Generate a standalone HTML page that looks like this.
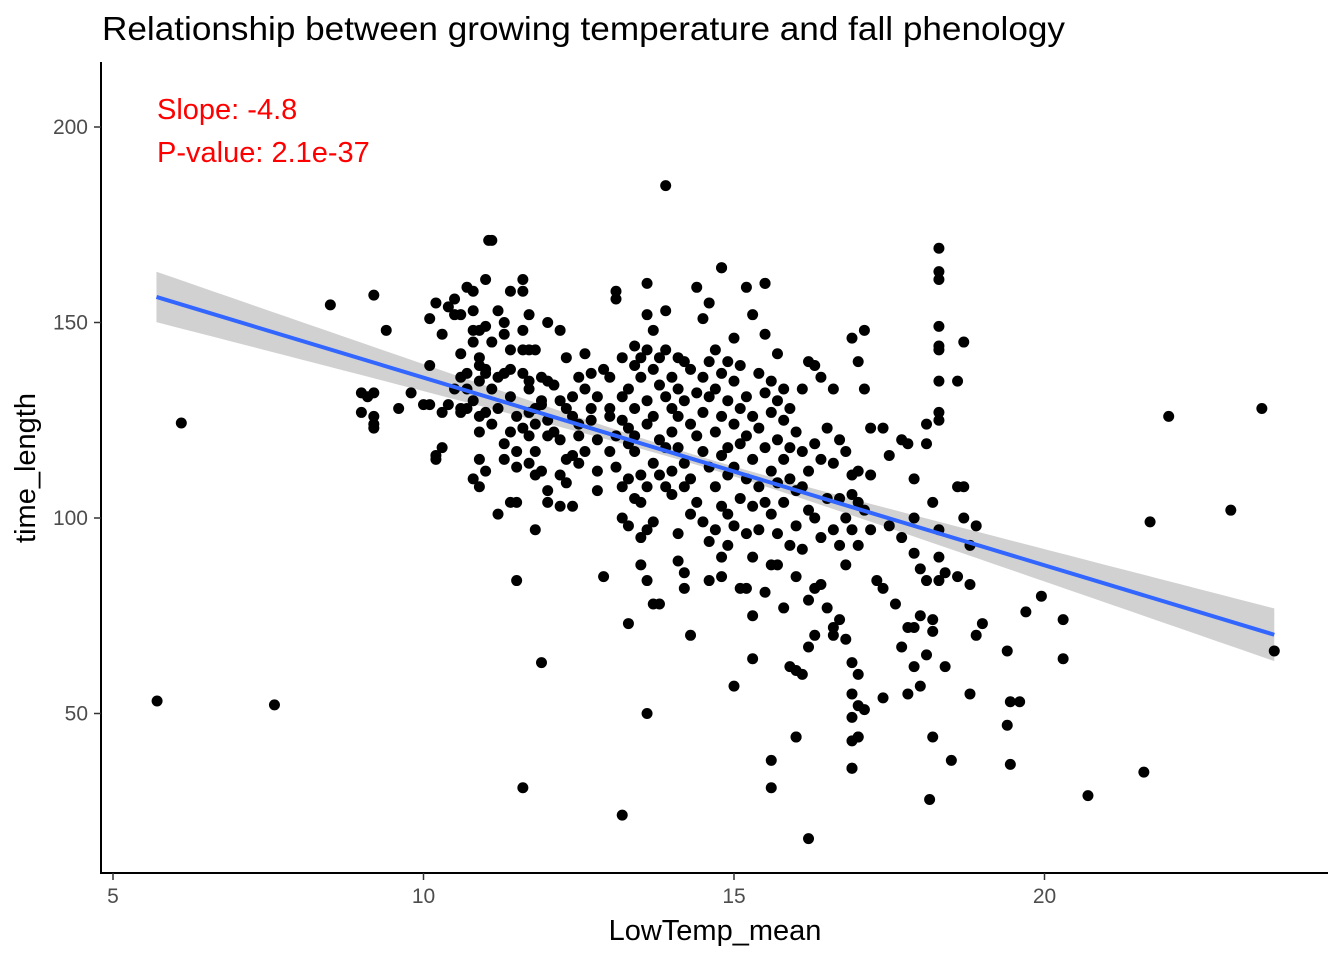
<!DOCTYPE html>
<html><head><meta charset="utf-8"><style>
html,body{margin:0;padding:0;background:#fff;}
svg{display:block;font-family:"Liberation Sans",Arial,sans-serif;}
</style></head><body>
<svg id="chart" width="1344" height="960" viewBox="0 0 1344 960" xmlns="http://www.w3.org/2000/svg">
<text x="102" y="40" font-size="33" textLength="963" lengthAdjust="spacingAndGlyphs" fill="#000">Relationship between growing temperature and fall phenology</text>
<g id="band"></g>
<g id="pts"></g>
<g id="fit"></g>
<line x1="101" y1="62" x2="101" y2="874" stroke="#000" stroke-width="2"/>
<line x1="100" y1="873" x2="1328" y2="873" stroke="#000" stroke-width="2"/>
<g id="xt"></g>
<g id="yt"></g>
<text x="715" y="940" font-size="29" text-anchor="middle">LowTemp_mean</text>
<text transform="translate(35,468) rotate(-90)" font-size="29" text-anchor="middle">time_length</text>
<text x="157" y="119" font-size="29" fill="#ff0000">Slope: -4.8</text>
<text x="157" y="162" font-size="29" fill="#ff0000">P-value: 2.1e-37</text>
</svg>
<script>
const xTicks=[5,10,15,20];
const yTicks=[50,100,150,200];
const fitIntercept=183.9;
const fitSlope=-4.8;
const fitRange=[5.7,23.7];
const bandSe0=1.2;
const bandK=0.72;
const bandMid=14.5;
const xs=[5.71,6.1,7.6,8.5,23.7,23.5,23.0,22.0,21.7,21.6,20.7,20.3,20.3,19.95,19.7,19.45,19.6,19.4,19.45,19.4,13.9,16.2,13.2,11.6,13.6,11.9,11.5,18.15,18.5,18.2,15.6,15.6,16.0,16.9,17.0,11.05,14.8,15.5,18.3,18.3,18.3,18.3,18.3,18.3,18.3,18.3,18.3,18.7,18.6,
9.0,9.1,9.2,9.0,9.2,9.2,9.2,9.4,9.2,9.6,9.8,10.1,10.2,10.2,10.3,10.1,10.2,10.1,10.4,10.5,10.5,10.6,10.6,10.7,10.8,10.8,10.7,10.8,10.9,10.9,10.6,10.9,
11.0,11.0,11.1,11.1,11.0,11.1,11.0,11.2,11.2,11.0,11.1,10.9,10.9,10.8,10.9,11.2,11.3,11.3,11.4,11.2,11.4,11.4,11.3,11.4,11.5,11.4,11.3,11.5,11.5,11.3,11.4,11.5,
11.6,11.6,11.7,11.6,11.6,11.7,11.6,11.7,11.7,11.6,11.7,11.8,11.7,11.8,11.8,11.9,11.9,11.8,12.0,12.0,12.0,12.0,11.9,12.0,12.0,11.8,11.9,11.7,11.8,
12.2,12.3,12.1,12.2,12.3,12.1,12.2,12.3,12.2,12.3,12.2,12.4,12.4,12.5,12.5,12.5,12.4,12.4,12.5,12.6,12.6,12.6,12.7,12.7,12.7,12.8,12.8,12.8,12.8,
12.9,13.0,13.0,13.0,13.1,13.0,12.9,13.1,13.1,13.2,13.2,13.2,13.1,13.2,13.2,13.3,13.3,13.3,13.3,13.3,13.4,13.4,13.4,13.4,13.5,13.5,13.5,13.5,13.3,13.4,13.5,13.5,13.6,13.6,13.6,13.6,13.6,13.6,13.6,13.6,13.4,
13.7,13.8,13.7,13.8,13.7,13.8,13.7,13.8,13.7,13.7,13.8,13.9,13.9,13.9,13.9,13.9,14.0,14.0,14.0,14.0,14.0,14.1,14.1,14.1,14.1,14.1,14.1,14.2,14.2,14.2,14.2,14.2,14.2,14.3,14.3,14.3,14.3,14.3,14.4,14.4,14.4,14.4,14.5,14.5,14.5,14.5,14.5,14.6,14.6,14.6,14.6,14.6,14.6,
14.7,14.7,14.7,14.7,14.7,14.8,14.8,14.8,14.8,14.8,14.8,14.8,14.9,14.9,14.9,14.9,14.9,14.9,15.0,15.0,15.0,15.0,15.0,15.1,15.0,15.1,15.1,15.1,15.1,15.2,15.2,15.2,15.2,15.2,15.2,15.3,15.3,15.3,15.3,15.3,15.3,15.3,15.4,15.4,15.4,15.4,15.5,15.5,15.5,15.5,15.5,15.5,
15.6,15.6,15.6,15.6,15.6,15.7,15.7,15.7,15.7,15.7,15.7,15.8,15.8,15.8,15.8,15.8,15.9,15.9,15.9,15.9,15.9,16.0,16.0,16.0,16.0,16.0,16.0,16.1,16.1,16.1,16.1,16.2,16.2,16.2,16.2,16.2,16.1,
16.3,16.3,16.3,16.3,16.3,16.4,16.4,16.4,16.4,16.5,16.5,16.5,16.6,16.6,16.6,16.6,16.6,16.7,16.7,16.7,16.7,16.8,16.8,16.8,16.8,16.9,16.9,16.9,16.9,16.9,16.9,16.9,16.9,17.0,17.0,17.0,17.0,17.0,17.0,17.0,16.9,
17.1,17.1,17.1,17.1,17.2,17.2,17.2,17.3,17.4,17.4,17.4,17.5,17.5,17.6,17.7,17.7,17.7,17.8,17.8,17.8,17.9,17.9,17.9,17.9,17.9,18.0,18.0,18.0,18.1,18.1,18.1,18.1,18.2,18.2,18.2,18.3,18.3,18.3,18.4,18.4,
18.6,18.7,18.6,18.7,18.8,18.8,18.8,18.9,18.9,19.0,
10.0,10.3,10.3,10.4,10.5,10.8,10.7,10.9,10.6,10.8,10.9,11.0,10.6,10.7];
const ys=[53.2,124.3,52.2,154.5,66,128,102,126,99,35,29,64,74,80,76,53,53,47,37,66,185,18,24,31,50,63,84,28,38,44,38,31,44,36,44,171,164,160,169,163,161,149,144,143,135,127,125,145,135,
132,131,132,127,126,124,123,148,157,128,132,129,116,115,118,151,155,139,129,156,133,128,136,128,153,145,159,158,141,139,152,148,
161,149,171,145,138,133,137,136,128,127,124,126,122,110,108,101,150,147,158,153,143,138,137,131,126,122,119,117,113,115,104,104,
161,158,152,148,143,143,137,135,127,123,121,117,114,111,128,130,136,143,150,135,125,121,112,107,104,97,129,133,124,
148,141,134,130,128,122,120,115,111,109,103,103,116,114,121,124,126,131,136,142,133,117,125,128,137,131,120,112,107,
138,136,128,126,121,117,85,158,156,141,131,125,113,108,100,98,110,119,123,133,139,144,128,117,111,104,95,88,73,121,136,141,160,152,143,130,124,108,97,84,105,
148,141,138,134,126,120,114,111,99,78,78,153,143,131,118,108,136,128,122,112,106,141,133,126,118,96,89,140,130,114,108,86,82,138,124,110,101,70,132,121,104,159,151,136,127,117,99,155,140,131,113,94,84,
143,133,122,108,97,164,137,126,116,103,90,85,140,130,118,111,101,93,146,135,124,113,98,82,57,139,128,119,105,159,131,121,110,96,82,152,126,115,103,90,75,64,137,123,108,97,160,147,132,118,104,81,
135,127,112,101,88,142,130,120,109,96,88,133,125,115,104,77,128,118,110,93,62,122,107,98,85,44,61,133,117,108,92,140,112,102,79,67,60,
139,119,100,82,70,136,115,95,83,123,105,77,133,114,97,72,70,120,105,93,74,117,100,88,69,146,111,97,63,55,49,43,36,140,112,104,93,60,52,44,106,
148,133,102,51,123,111,97,84,82,123,54,116,98,78,120,95,67,119,72,55,110,100,91,72,62,87,75,57,124,119,84,65,104,74,71,90,84,97,86,62,
108,108,85,100,93,83,55,98,70,73,
129,127,147,154,152,130,137,135,142,148,115,112,127,133];
const ns="http://www.w3.org/2000/svg";
const X=v=>113+(v-5)*62.1;
const Y=v=>518-(v-100)*3.91;
const xt=document.getElementById('xt');
xTicks.forEach(t=>{
  const l=document.createElementNS(ns,'line');
  
  
  l.setAttribute('x1',X(t));l.setAttribute('x2',X(t));l.setAttribute('y1',873);l.setAttribute('y2',880);
  l.setAttribute('stroke','#333');l.setAttribute('stroke-width','1.5');xt.appendChild(l);
  const s=document.createElementNS(ns,'text');
  
  
  s.setAttribute('x',X(t));s.setAttribute('y',903);s.setAttribute('font-size','21');
  s.setAttribute('fill','#4d4d4d');s.setAttribute('text-anchor','middle');s.textContent=t;xt.appendChild(s);
});
const yt=document.getElementById('yt');
yTicks.forEach(t=>{
  const l=document.createElementNS(ns,'line');
  
  
  l.setAttribute('x1',94);l.setAttribute('x2',101);l.setAttribute('y1',Y(t));l.setAttribute('y2',Y(t));
  l.setAttribute('stroke','#333');l.setAttribute('stroke-width','1.5');yt.appendChild(l);
  const s=document.createElementNS(ns,'text');
  
  
  s.setAttribute('x',88);s.setAttribute('y',Y(t)+7);s.setAttribute('font-size','21');
  s.setAttribute('fill','#4d4d4d');s.setAttribute('text-anchor','end');s.textContent=t;yt.appendChild(s);
});
const fy=x=>fitIntercept+fitSlope*x;
const se=x=>Math.sqrt(bandSe0*bandSe0+bandK*bandK*(x-bandMid)*(x-bandMid));
let up=[],dn=[];
for(let i=0;i<=60;i++){const x=fitRange[0]+(fitRange[1]-fitRange[0])*i/60;up.push(X(x)+','+Y(fy(x)+se(x)));dn.unshift(X(x)+','+Y(fy(x)-se(x)));}
const poly=document.createElementNS(ns,'polygon');


poly.setAttribute('points',up.concat(dn).join(' '));poly.setAttribute('fill','#999');poly.setAttribute('fill-opacity','0.45');
document.getElementById('band').appendChild(poly);
const pg=document.getElementById('pts');
for(let i=0;i<xs.length;i++){
  const c=document.createElementNS(ns,'circle');
  
  
  c.setAttribute('cx',X(xs[i]));c.setAttribute('cy',Y(ys[i]));c.setAttribute('r',5.5);c.setAttribute('fill','#000');pg.appendChild(c);
}
const ln=document.createElementNS(ns,'line');


ln.setAttribute('x1',X(fitRange[0]));ln.setAttribute('y1',Y(fy(fitRange[0])));ln.setAttribute('x2',X(fitRange[1]));ln.setAttribute('y2',Y(fy(fitRange[1])));
ln.setAttribute('stroke','#3366ff');ln.setAttribute('stroke-width','4');
document.getElementById('fit').appendChild(ln);
</script>
</body></html>
